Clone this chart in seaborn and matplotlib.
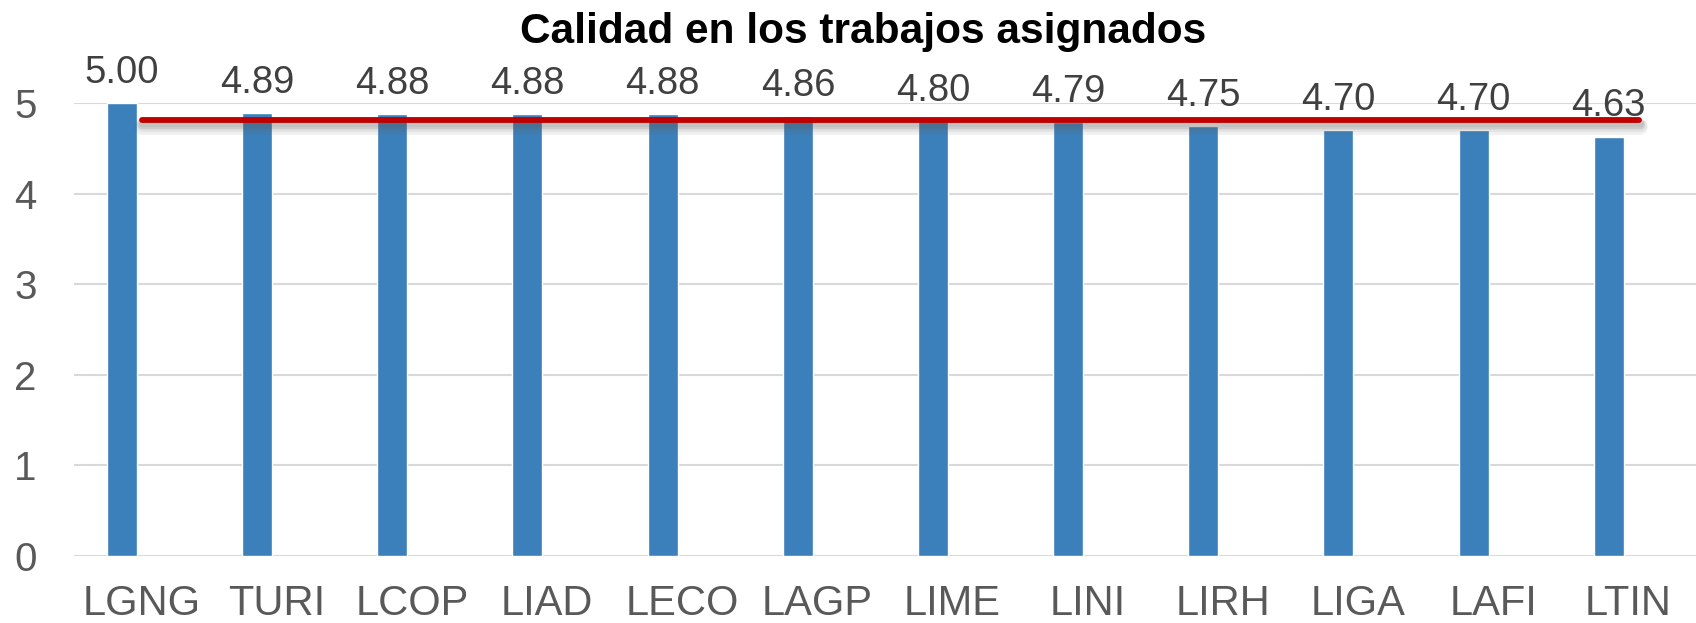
import numpy as np
import pandas as pd
import matplotlib
matplotlib.use("Agg")
import matplotlib.pyplot as plt
import matplotlib.patheffects as pe
import seaborn as sns

# data
programas = ["LGNG", "TURI", "LCOP", "LIAD", "LECO", "LAGP", "LIME", "LINI", "LIRH", "LIGA", "LAFI", "LTIN"]
calidad = [5.00, 4.89, 4.88, 4.88, 4.88, 4.86, 4.80, 4.79, 4.75, 4.70, 4.70, 4.63]
titulo = "Calidad en los trabajos asignados"

sns.set_style("white")
plt.rcParams["font.family"] = ["Liberation Sans", "DejaVu Sans"]

df = pd.DataFrame({"programa": programas, "calidad": calidad})
df["pos"] = np.arange(len(df)) - 0.145  # bars sit left of the slot centre
promedio = df["calidad"].mean()

fig = plt.figure(figsize=(16.96, 6.23), dpi=100)
ax = fig.add_axes([74 / 1696, 1 - 556 / 623, 1 - 74 / 1696, (556 - 103) / 623])

sns.barplot(data=df, x="pos", y="calidad", native_scale=True, width=0.222,
            color="#3B80BA", saturation=1, ax=ax, zorder=2)

# average line with a soft, blurred-looking shadow
sombra = [pe.SimpleLineShadow(offset=(0.5, -dy), shadow_color="#606060", alpha=0.09,
                              linewidth=4.2 + w)
          for dy, w in [(2, 1), (3, 3), (4, 5), (5, 7), (3.5, 2)]]
ax.plot([0.0, 11.08], [promedio, promedio], color="#C00000", lw=4.2,
        solid_capstyle="round", zorder=4, path_effects=sombra + [pe.Normal()])

for x, v in zip(df["pos"], df["calidad"]):
    ax.annotate(f"{v:.2f}", (x, v), xytext=(0, 14.5), textcoords="offset points",
                ha="center", va="baseline", fontsize=27.5, color="#404040",
                annotation_clip=False)

ax.set_xlim(-0.5, 11.5)
ax.set_ylim(0, 5)
ax.set_yticks(range(6))
ax.set_xticks(range(len(programas)))
ax.set_xticklabels(programas)
ax.set_xlabel("")
ax.set_ylabel("")
ax.tick_params(axis="x", length=0, pad=20, labelsize=30, labelcolor="#595959")
ax.tick_params(axis="y", length=0, pad=27, labelsize=29, labelcolor="#595959")
ax.grid(axis="y", color="#D9D9D9", lw=1.5, zorder=0)
ax.set_axisbelow(True)
for s in ax.spines.values():
    s.set_visible(False)

fig.text(0.509, 1 - 43 / 623, titulo, ha="center", va="baseline",
         fontsize=30.5, fontweight="bold", color="black")

fig.savefig("out.png", dpi=100)
